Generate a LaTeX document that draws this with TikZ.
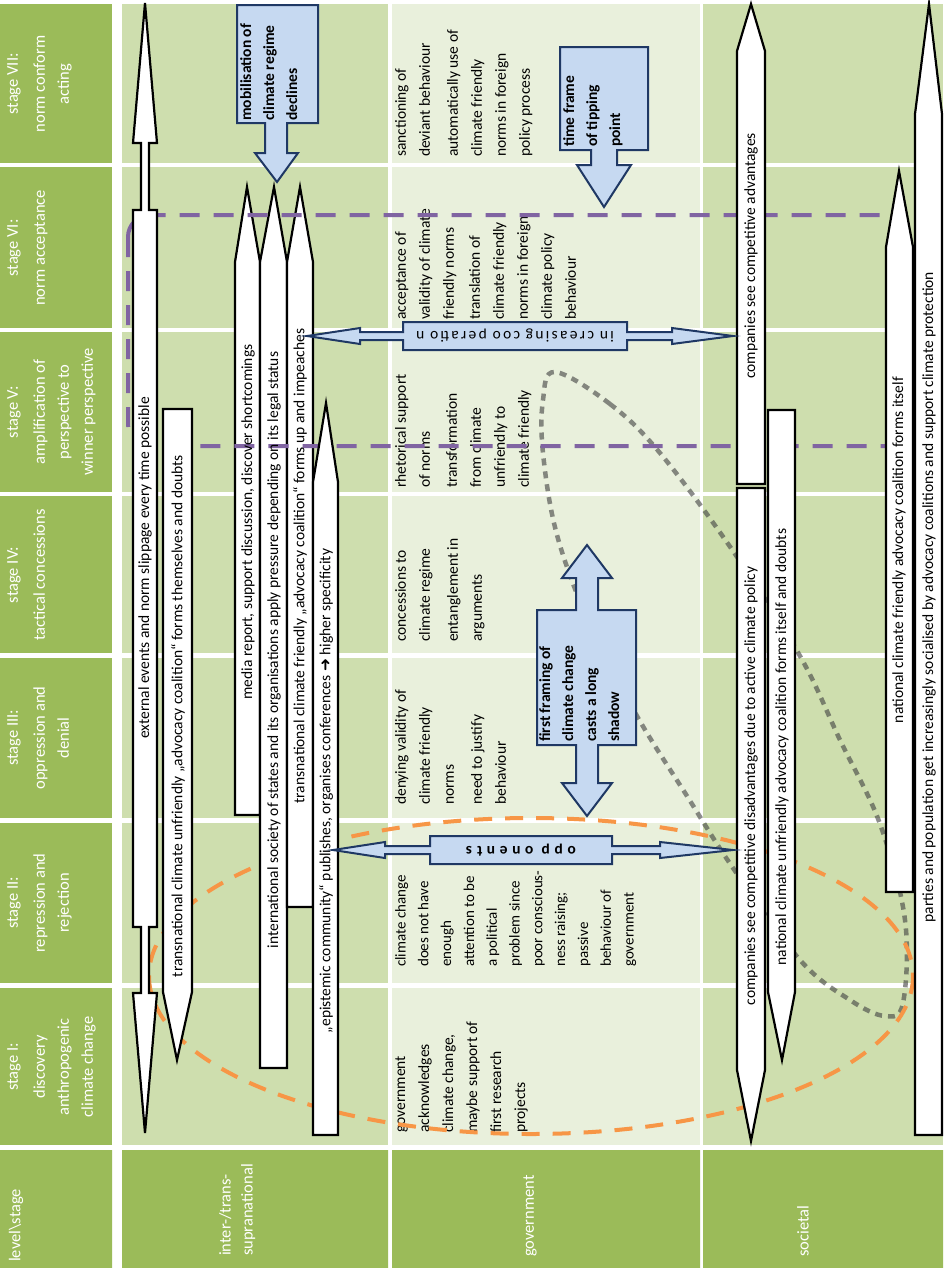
\documentclass[tikz,border=0pt]{standalone}
\usepackage{fontspec}
\setmainfont{Carlito}
\newfontfamily\symfont{DejaVu Sans}
\usetikzlibrary{positioning}
\definecolor{stagegreen}{RGB}{155,187,89}
\definecolor{rowgreen}{RGB}{206,222,174}
\definecolor{govgreen}{RGB}{233,240,220}
\definecolor{regimeblue}{RGB}{198,217,241}
\definecolor{regimenavy}{RGB}{31,56,100}
\definecolor{tippurple}{RGB}{128,100,162}
\definecolor{shadoworange}{RGB}{247,150,70}

\begin{document}
\begin{tikzpicture}[x=1bp, y=-1bp,
    hdrtxt/.style={rotate=90, anchor=north, inner sep=0pt, align=center, text=white,
        font=\fontsize{16.5bp}{24bp}\selectfont},
    lvltxt/.style={rotate=90, anchor=north west, inner sep=0pt, align=left, text=white,
        font=\fontsize{16.5bp}{22bp}\selectfont},
    govtxt/.style={rotate=90, anchor=north west, inner sep=0pt, align=left,
        font=\fontsize{15.5bp}{24bp}\selectfont},
    boxtxt/.style={rotate=90, inner sep=0pt, font=\fontsize{15.5bp}{18bp}\selectfont},
    bluetxt/.style={rotate=90, anchor=north west, inner sep=0pt, align=left,
        font=\fontsize{15.5bp}{23bp}\selectfont\bfseries},
    fliptxt/.style={rotate=180, inner sep=0pt, font=\fontsize{15.5bp}{18bp}\selectfont},
    flow/.style={draw=black, line width=2.2bp, fill=white, line join=miter},
    callout/.style={draw=regimenavy, line width=2bp, fill=regimeblue, line join=miter},
    tipline/.style={draw=tippurple, line width=4bp, dash pattern=on 20bp off 14bp},
    shadowline/.style={draw=shadoworange, line width=4bp, dash pattern=on 18bp off 13bp},
    attention/.style={draw=black!75, line width=4.5bp, dash pattern=on 7bp off 6bp, opacity=0.6}
]
    \fill[white] (0,0) rectangle (943,1268);
    \foreach \yt/\yb in {4/163,167/328,332/492,496/653,658/818,823/983,988/1145} {
        \fill[stagegreen] (0,\yt) rectangle (112,\yb);
        \fill[rowgreen] (122,\yt) rectangle (388,\yb);
        \fill[govgreen] (392,\yt) rectangle (700,\yb);
        \fill[rowgreen] (703,\yt) rectangle (943,\yb);
    }
    \fill[stagegreen] (0,1150) rectangle (112,1268) (122,1150) rectangle (388,1268)
        (392,1150) rectangle (700,1268) (703,1150) rectangle (943,1268);

    \node[hdrtxt] (hVII) at (7,84) {stage VII:\\[3bp]norm conform\\acting};
    \node[hdrtxt] (hVI) at (7,248) {stage VI:\\[3bp]norm acceptance};
    \node[hdrtxt] (hV) at (7,412) {stage V:\\[3bp]amplification of\\perspective to\\winner perspective};
    \node[hdrtxt] (hIV) at (7,575) {stage IV:\\[3bp]tactical concessions};
    \node[hdrtxt] (hIII) at (7,738) {stage III:\\[3bp]oppression and\\denial};
    \node[hdrtxt] (hII) at (7,903) {stage II:\\[3bp]repression and\\rejection};
    \node[hdrtxt] (hI) at (7,1067) {stage I:\\[3bp]discovery\\anthropogenic\\climate change};

    \node[lvltxt, anchor=west] (lvstage) at (16,1262) {level\textbackslash stage};
    \node[lvltxt] (lvinter) at (219,1256) {inter-/trans-\\supranational};
    \node[lvltxt, anchor=west] (lvgov) at (530,1257) {government};
    \node[lvltxt, anchor=west] (lvsoc) at (803,1257) {societal};

    \node[govtxt] (gVII) at (395,157) {sanctioning of\\deviant behaviour\\[4bp]automatically use of\\climate friendly\\norms in foreign\\policy process};
    \node[govtxt] (gVI) at (395,320) {acceptance of\\validity of climate\\friendly norms\\[2bp]translation of\\climate friendly\\norms in foreign\\climate policy\\behaviour};
    \node[govtxt] (gV) at (395,488) {rhetorical support\\of norms\\[3bp]transformation\\from climate\\unfriendly to\\climate friendly};
    \node[govtxt] (gIV) at (395,642) {concessions to\\climate regime\\[4bp]entanglement in\\arguments};
    \node[govtxt] (gIII) at (395,805) {denying validity of\\climate friendly\\norms\\[4bp]need to justify\\behaviour};
    \node[govtxt, font=\fontsize{15bp}{22.8bp}\selectfont] (gII) at (395,967) {climate change\\does not have\\enough\\attention to be\\a political\\problem since\\poor conscious-\\ness raising;\\passive\\behaviour of\\government};
    \node[govtxt] (gI) at (395,1133) {government\\acknowledges\\climate change,\\maybe support of\\first research\\projects};

    \draw[attention] plot[smooth cycle, tension=0.6] coordinates {(555,372) (610,404) (660,453)
        (733,551) (800,656) (840,740) (880,824) (905,920) (903,1003) (885,1016) (850,1000)
        (800,960) (733,868) (687,796) (637,716) (590,625) (557,535) (543,453) (543,400)};
    \draw[shadowline] (531,976) ellipse [x radius=382, y radius=158];

    \draw[flow] (235,815) -- (235,262) -- (247,187) -- (260,262) -- (260,815) -- cycle;
    \draw[flow] (260,1068) -- (260,262) -- (274,187) -- (287,262) -- (287,1068) -- cycle;
    \draw[flow] (287,907) -- (287,262) -- (300,187) -- (313,262) -- (313,907) -- cycle;

    \draw[tipline, rounded corners=22bp] (128,215) rectangle (910,446);

    \draw[flow] (886,892) -- (886,247) -- (899,171) -- (913,247) -- (913,892) -- cycle;
    \draw[flow] (145,3) -- (157,143) -- (149,143) -- (149,210) -- (157,210) -- (157,927)
        -- (149,927) -- (149,993) -- (157,993) -- (145,1133) -- (133,993) -- (141,993)
        -- (141,927) -- (133,927) -- (133,210) -- (141,210) -- (141,143) -- (133,143) -- cycle;
    \draw[flow] (163,409) -- (192,409) -- (192,992) -- (177,1060) -- (163,992) -- cycle;
    \draw[flow] (313,1135) -- (313,482) -- (326,403) -- (338,482) -- (338,1135) -- cycle;
    \draw[flow] (737,484) -- (737,51) -- (751,4) -- (765,51) -- (765,484) -- cycle;
    \draw[flow] (737,488) -- (765,488) -- (765,1070) -- (751,1141) -- (737,1070) -- cycle;
    \draw[flow] (768,410) -- (795,410) -- (795,992) -- (782,1060) -- (768,992) -- cycle;
    \draw[flow] (915,1135) -- (915,114) -- (929,4) -- (942,114) -- (942,1135) -- cycle;

    \node[boxtxt] (events) at (145,568) {external events and norm slippage every time possible};
    \node[boxtxt] (unfriendlytrans) at (178,716) {transnational climate unfriendly „advocacy coalition“ forms themselves and doubts};
    \node[boxtxt] (media) at (248,522) {media report, support discussion, discover shortcomings};
    \node[boxtxt] (society) at (274,650) {international society of states and its organisations apply pressure depending on its legal status};
    \node[boxtxt] (friendlytrans) at (300,566) {transnational climate friendly „advocacy coalition“ forms up and impeaches};
    \node[boxtxt] (epistemic) at (326,791) {„epistemic community“ publishes, organises conferences {\symfont ➜} higher specificity};
    \node[boxtxt] (advantages) at (751,256) {companies see competitive advantages};
    \node[boxtxt] (disadvantages) at (751,786) {companies see competitive disadvantages due to active climate policy};
    \node[boxtxt] (unfriendlynat) at (782,747) {national climate unfriendly advocacy coalition forms itself and doubts};
    \node[boxtxt] (friendlynat) at (899,550) {national climate friendly advocacy coalition forms itself};
    \node[boxtxt] (parties) at (929,597) {parties and population get increasingly socialised by advocacy coalitions and support climate protection};

    \draw[callout] (237,5) -- (318,5) -- (318,123) -- (287,123) -- (287,153) -- (298,153)
        -- (277,182) -- (255,153) -- (265,153) -- (265,123) -- (237,123) -- cycle;
    \node[bluetxt] (mobil) at (240,121) {mobilisation of\\climate regime\\declines};
    \draw[callout] (560,47) -- (648,47) -- (648,150) -- (617,150) -- (617,165) -- (631,165)
        -- (604,207) -- (577,165) -- (591,165) -- (591,150) -- (560,150) -- cycle;
    \node[bluetxt] (tipping) at (563,147) {time frame\\of tipping\\point};
    \draw[callout] (307,336) -- (360,328) -- (360,332) -- (403,332) -- (403,322) -- (627,322)
        -- (627,332) -- (672,332) -- (672,328) -- (733,336) -- (672,344) -- (672,340)
        -- (627,340) -- (627,350) -- (403,350) -- (403,340) -- (360,340) -- (360,344) -- cycle;
    \node[fliptxt, font=\fontsize{15.5bp}{18bp}\selectfont\addfontfeature{LetterSpace=15}] (coop) at (515,336) {in creasing coo peratio n};
    \draw[callout] (333,850) -- (385,842) -- (385,846) -- (430,846) -- (430,836) -- (612,836)
        -- (612,846) -- (660,846) -- (660,842) -- (733,850) -- (660,858) -- (660,854)
        -- (612,854) -- (612,864) -- (430,864) -- (430,854) -- (385,854) -- (385,858) -- cycle;
    \node[fliptxt, font=\fontsize{15.5bp}{18bp}\selectfont\bfseries\addfontfeature{LetterSpace=30}] (opp) at (521,850) {opp onents};
    \draw[callout] (587,545) -- (612,578) -- (598,578) -- (598,610) -- (636,610) -- (636,745)
        -- (598,745) -- (598,783) -- (612,783) -- (587,816) -- (562,783) -- (576,783)
        -- (576,745) -- (537,745) -- (537,610) -- (576,610) -- (576,578) -- (562,578) -- cycle;
    \node[bluetxt] (framing) at (539,742) {first framing of\\climate change\\casts a long\\shadow};
\end{tikzpicture}
\end{document}
